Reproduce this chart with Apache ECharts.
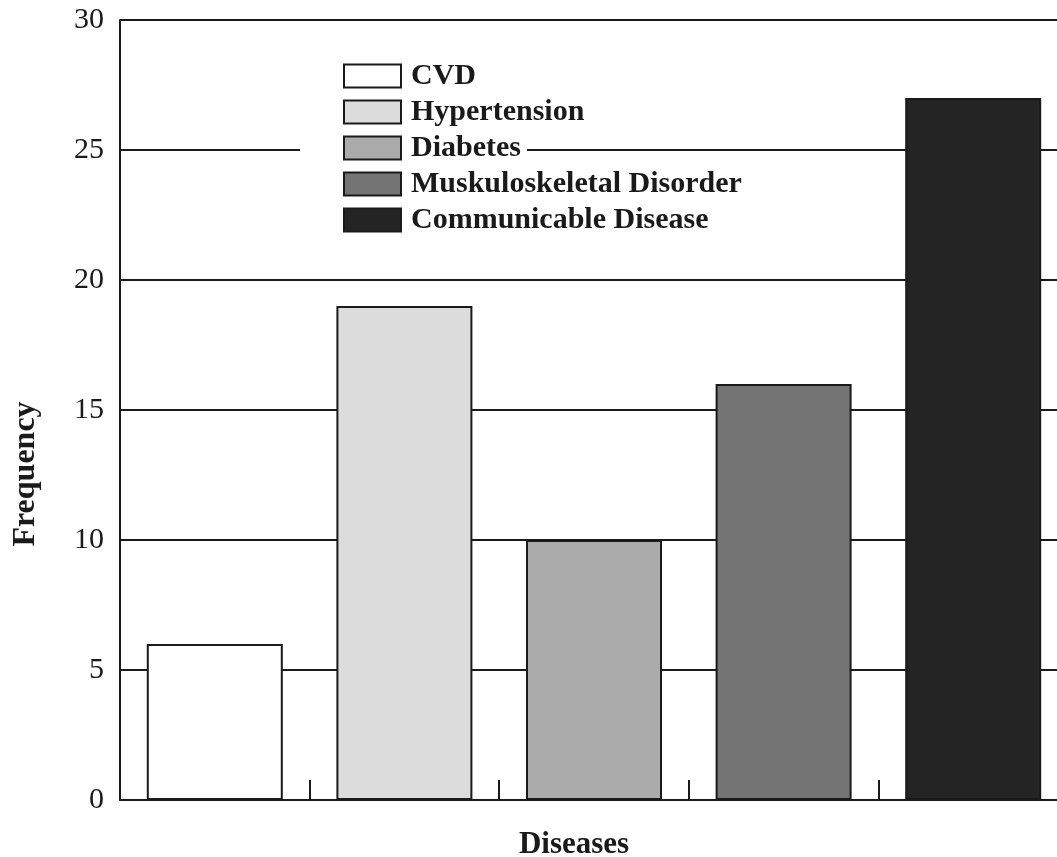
<!DOCTYPE html>
<html>
<head>
<meta charset="utf-8">
<script src="https://cdn.jsdelivr.net/npm/echarts@6/dist/echarts.min.js"></script>
<style>
  html, body { margin: 0; padding: 0; background: #fff; }
  #chart { width: 1057px; height: 857px; }
</style>
</head>
<body>
<div id="chart"></div>
<script>
const categories = ['CVD', 'Hypertension', 'Diabetes', 'Muskuloskeletal Disorder', 'Communicable Disease']
const frequency = [6, 19, 10, 16, 27]
const yTicks = [0, 5, 10, 15, 20, 25, 30]
const fills = ['#ffffff', '#dcdcdc', '#ababab', '#747474', '#242424']

const font = 'Liberation Serif'
const ink = '#1a1a1a'

const chart = echarts.init(document.getElementById('chart'))

// one series per disease so the legend lists every bar
const series = categories.map((name, i) => ({
  name,
  type: 'bar',
  stack: 'all',
  barWidth: 136,
  data: categories.map((c, j) => (j === i ? frequency[j] : '-')),
  itemStyle: { color: fills[i], borderColor: ink, borderWidth: 2 }
}))

chart.setOption({
  animation: false,
  backgroundColor: '#fff',
  grid: { left: 120, top: 20, width: 948, bottom: 57, outerBoundsMode: 'none' },
  legend: {
    data: categories,
    orient: 'vertical',
    left: 338,
    top: 56,
    itemWidth: 57,
    itemHeight: 23,
    itemGap: 6,
    icon: 'rect',
    textStyle: {
      fontFamily: font, fontWeight: 'bold', fontSize: 30, lineHeight: 30,
      color: ink, padding: [0, 0, 0, 5]
    }
  },
  xAxis: {
    type: 'category',
    data: categories,
    name: 'Diseases',
    nameLocation: 'middle',
    nameGap: 29,
    nameTextStyle: { fontFamily: font, fontWeight: 'bold', fontSize: 31, color: ink, padding: [0, 40, 0, 0] },
    axisLine: { lineStyle: { color: ink, width: 2 } },
    axisTick: { show: true, inside: true, length: 20, lineStyle: { color: ink, width: 2 } },
    axisLabel: { show: false },
    splitLine: { show: false }
  },
  yAxis: {
    type: 'value',
    min: yTicks[0],
    max: yTicks[yTicks.length - 1],
    interval: 5,
    axisLine: { show: true, lineStyle: { color: ink, width: 2 } },
    axisTick: { show: false },
    axisLabel: { fontFamily: font, fontSize: 30, color: ink, margin: 16 },
    splitLine: { show: true, lineStyle: { color: ink, width: 2 } }
  },
  graphic: [
    // the legend hides the 25 grid line behind it
    { type: 'rect', z: 1, shape: { x: 300, y: 140, width: 227, height: 16 }, style: { fill: '#fff' } },
    {
      type: 'text',
      x: 26,
      y: 474,
      rotation: Math.PI / 2,
      style: {
        text: 'Frequency',
        fontFamily: font,
        fontWeight: 'bold',
        fontSize: 32,
        fill: ink,
        align: 'center',
        verticalAlign: 'middle'
      }
    }
  ],
  series
})
</script>
</body>
</html>
